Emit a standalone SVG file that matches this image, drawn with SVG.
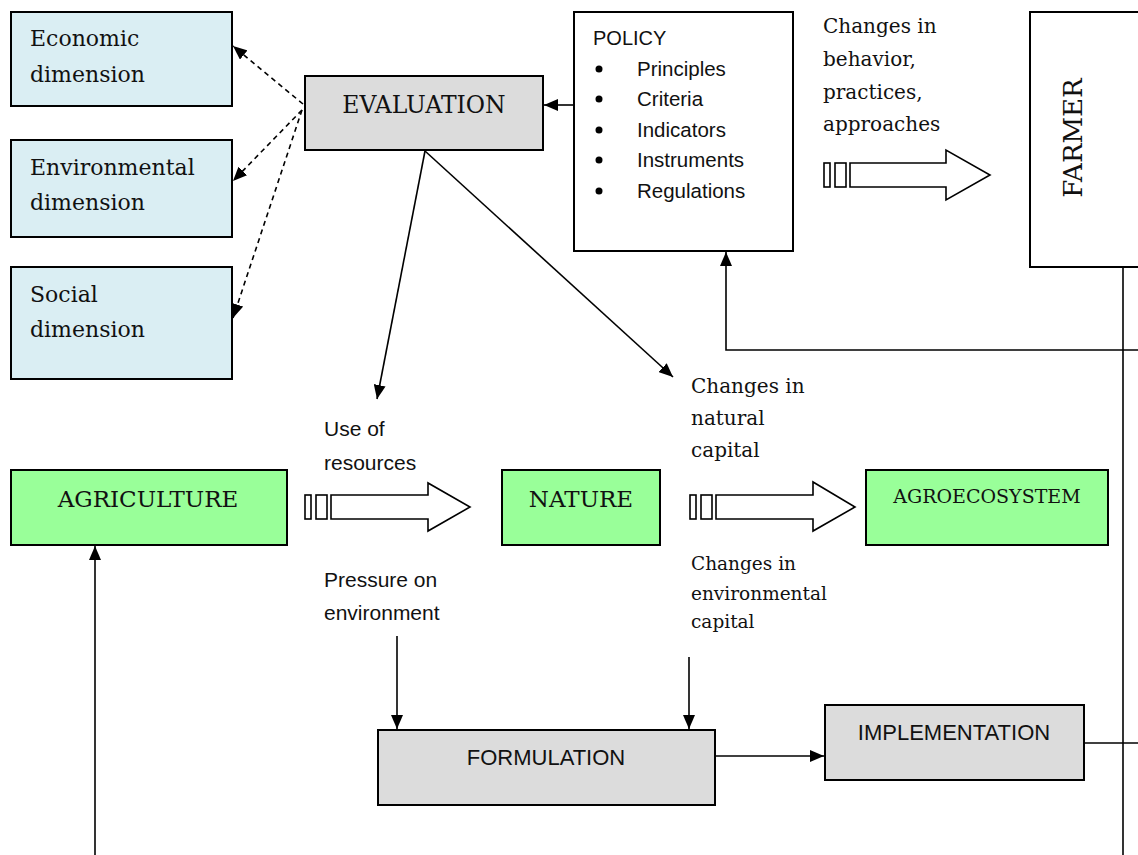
<svg xmlns="http://www.w3.org/2000/svg" width="1138" height="855" viewBox="0 0 1138 855">
<style>
.box{stroke:#000;stroke-width:2}
.blue{fill:#daeef3}
.gray{fill:#dcdcdc}
.green{fill:#99ff99}
.white{fill:#fff}
.serif{font-family:"DejaVu Serif","Liberation Serif",serif;fill:#111}
.sans{font-family:"Liberation Sans",Arial,sans-serif;fill:#111}
.con{fill:none;stroke:#000;stroke-width:1.6}
.dash{fill:none;stroke:#000;stroke-width:1.6;stroke-dasharray:5 4}
.blk{fill:#fff;stroke:#000;stroke-width:1.6}
</style>
<defs>
<marker id="ah" viewBox="0 0 14 12" refX="14" refY="6" markerWidth="14" markerHeight="12" markerUnits="userSpaceOnUse" orient="auto">
<path d="M0,0 L14,6 L0,12 Z" fill="#000"/>
</marker>
</defs>
<rect width="1138" height="855" fill="#fff"/>

<g id="economic">
<rect class="box blue" x="11" y="12" width="221" height="94"/>
<text class="serif" font-size="22" x="30" y="46">Economic</text>
<text class="serif" font-size="22" x="30" y="82">dimension</text>
</g>
<g id="environmental">
<rect class="box blue" x="11" y="140" width="221" height="97"/>
<text class="serif" font-size="22" x="30" y="175">Environmental</text>
<text class="serif" font-size="22" x="30" y="210">dimension</text>
</g>
<g id="social">
<rect class="box blue" x="11" y="267" width="221" height="112"/>
<text class="serif" font-size="22" x="30" y="302">Social</text>
<text class="serif" font-size="22" x="30" y="337">dimension</text>
</g>
<g id="evaluation">
<rect class="box gray" x="305" y="76" width="238" height="74"/>
<text class="serif" font-size="23.5" x="424" y="113" text-anchor="middle">EVALUATION</text>
</g>
<g id="policy">
<rect class="box white" x="574" y="12" width="219" height="239"/>
<text class="sans" font-size="20" x="593" y="45">POLICY</text>
<g class="sans" font-size="20.5">
<circle cx="599" cy="69" r="3.5" fill="#000"/>
<text x="637" y="76">Principles</text>
<circle cx="599" cy="99" r="3.5" fill="#000"/>
<text x="637" y="106">Criteria</text>
<circle cx="599" cy="130" r="3.5" fill="#000"/>
<text x="637" y="137">Indicators</text>
<circle cx="599" cy="160" r="3.5" fill="#000"/>
<text x="637" y="167">Instruments</text>
<circle cx="599" cy="191" r="3.5" fill="#000"/>
<text x="637" y="198">Regulations</text>
</g>
</g>
<g id="farmer">
<rect class="box white" x="1030" y="12" width="120" height="255"/>
<text class="serif" font-size="26" transform="translate(1082,138) rotate(-90)" text-anchor="middle">FARMER</text>
</g>
<g id="behavior-label" class="serif" font-size="20">
<text x="823" y="33">Changes in</text>
<text x="823" y="66">behavior,</text>
<text x="823" y="99">practices,</text>
<text x="823" y="131">approaches</text>
</g>
<g id="agriculture">
<rect class="box green" x="11" y="470" width="276" height="75"/>
<text class="serif" font-size="23" x="148" y="507" text-anchor="middle">AGRICULTURE</text>
</g>
<g id="nature">
<rect class="box green" x="502" y="470" width="158" height="75"/>
<text class="serif" font-size="23" x="581" y="507" text-anchor="middle">NATURE</text>
</g>
<g id="agroecosystem">
<rect class="box green" x="866" y="470" width="242" height="75"/>
<text class="serif" font-size="19" x="987" y="503" text-anchor="middle">AGROECOSYSTEM</text>
</g>
<g id="resources-label" class="sans" font-size="21">
<text x="324" y="436">Use of</text>
<text x="324" y="470">resources</text>
<text x="324" y="587">Pressure on</text>
<text x="324" y="620">environment</text>
</g>
<g id="capital-label" class="serif">
<text x="691" y="393" font-size="20">Changes in</text>
<text x="691" y="425" font-size="20">natural</text>
<text x="691" y="457" font-size="20">capital</text>
<text x="691" y="570" font-size="18.5">Changes in</text>
<text x="691" y="600" font-size="18.5">environmental</text>
<text x="691" y="628" font-size="18.5">capital</text>
</g>
<g id="formulation">
<rect class="box gray" x="378" y="730" width="337" height="75"/>
<text class="sans" font-size="22" x="546" y="765" text-anchor="middle">FORMULATION</text>
</g>
<g id="implementation">
<rect class="box gray" x="825" y="705" width="259" height="75"/>
<text class="sans" font-size="22" x="954" y="740" text-anchor="middle">IMPLEMENTATION</text>
</g>

<g id="block-arrows">
<rect class="blk" x="824" y="163" width="6" height="24"/>
<rect class="blk" x="835" y="163" width="11" height="24"/>
<path class="blk" d="M850,163 H946 V150 L990,175 L946,200 V187 H850 Z"/>
<rect class="blk" x="305" y="495" width="6" height="24"/>
<rect class="blk" x="316" y="495" width="11" height="24"/>
<path class="blk" d="M331,495 H428 V483 L470,507 L428,531 V519 H331 Z"/>
<rect class="blk" x="690" y="495" width="6" height="24"/>
<rect class="blk" x="701" y="495" width="11" height="24"/>
<path class="blk" d="M716,495 H813 V482 L855,507 L813,531 V519 H716 Z"/>
</g>

<g id="connectors">
<line class="dash" x1="303" y1="104" x2="233" y2="46" marker-end="url(#ah)"/>
<line class="dash" x1="302" y1="110" x2="233" y2="181" marker-end="url(#ah)"/>
<line class="dash" x1="302" y1="110" x2="233" y2="318" marker-end="url(#ah)"/>
<line class="con" x1="574" y1="105" x2="544" y2="105" marker-end="url(#ah)"/>
<line class="con" x1="425" y1="151" x2="377" y2="399" marker-end="url(#ah)"/>
<line class="con" x1="425" y1="151" x2="673" y2="377" marker-end="url(#ah)"/>
<path class="con" d="M1138,350 H726 V252" marker-end="url(#ah)"/>
<line class="con" x1="1123" y1="267" x2="1123" y2="855"/>
<line class="con" x1="1084" y1="743" x2="1138" y2="743"/>
<line class="con" x1="397" y1="636" x2="397" y2="729" marker-end="url(#ah)"/>
<line class="con" x1="689" y1="657" x2="689" y2="729" marker-end="url(#ah)"/>
<line class="con" x1="715" y1="756" x2="824" y2="756" marker-end="url(#ah)"/>
<line class="con" x1="95" y1="855" x2="95" y2="546" marker-end="url(#ah)"/>
</g>
</svg>
